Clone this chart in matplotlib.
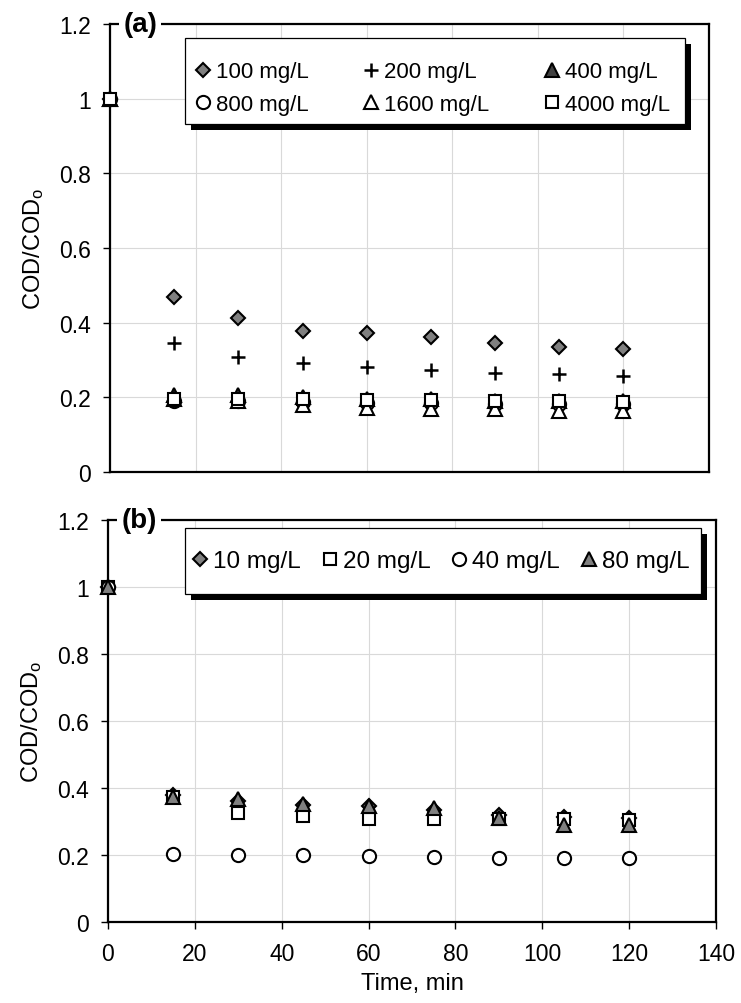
import matplotlib
matplotlib.use("Agg")
import matplotlib.pyplot as plt
from matplotlib.ticker import FuncFormatter
from matplotlib.patches import Rectangle

plt.rcParams['font.family'] = ['Liberation Sans', 'DejaVu Sans']
plt.rcParams['mathtext.fontset'] = 'custom'
plt.rcParams['mathtext.rm'] = 'Liberation Sans'
plt.rcParams['mathtext.it'] = 'Liberation Sans:italic'

# ---------------- data ----------------
time_min = [0, 15, 30, 45, 60, 75, 90, 105, 120]

# panel (a)
a_labels = ["100 mg/L", "200 mg/L", "400 mg/L", "800 mg/L", "1600 mg/L", "4000 mg/L"]
a_100 = [1.0, 0.469, 0.413, 0.379, 0.373, 0.362, 0.346, 0.334, 0.330]
a_200 = [1.0, 0.346, 0.308, 0.291, 0.280, 0.274, 0.266, 0.262, 0.258]
a_400 = [1.0, 0.205, 0.205, 0.200, 0.195, 0.195, 0.190, 0.190, 0.190]
a_800 = [1.0, 0.190, 0.190, 0.188, 0.186, 0.185, 0.183, 0.182, 0.182]
a_1600 = [1.0, 0.195, 0.190, 0.180, 0.172, 0.170, 0.168, 0.163, 0.163]
a_4000 = [1.0, 0.196, 0.196, 0.195, 0.194, 0.192, 0.190, 0.189, 0.188]

# panel (b)
b_labels = ["10 mg/L", "20 mg/L", "40 mg/L", "80 mg/L"]
b_10 = [1.0, 0.378, 0.360, 0.350, 0.345, 0.335, 0.318, 0.313, 0.310]
b_20 = [1.0, 0.373, 0.325, 0.317, 0.308, 0.306, 0.306, 0.306, 0.303]
b_40 = [1.0, 0.203, 0.200, 0.199, 0.197, 0.194, 0.192, 0.191, 0.191]
b_80 = [1.0, 0.373, 0.366, 0.353, 0.346, 0.340, 0.310, 0.290, 0.290]

y_ticks = [0, 0.2, 0.4, 0.6, 0.8, 1.0, 1.2]
x_ticks = [0, 20, 40, 60, 80, 100, 120, 140]

# ---------------- figure ----------------
W, H = 741, 1004
fig = plt.figure(figsize=(W / 100, H / 100), dpi=100)

def fx(px):
    return px / W

def fy(px):
    return 1 - px / H

ax_a = fig.add_axes([fx(110), fy(473), (709 - 110) / W, (473 - 25) / H])
ax_b = fig.add_axes([fx(108), fy(923), (716 - 108) / W, (923 - 521) / H])

TICK_FS = 16.5
LAB_FS = 17

def style_axes(ax, show_x):
    ax.set_xlim(0, 140)
    ax.set_ylim(0, 1.2)
    ax.set_xticks(x_ticks)
    ax.set_yticks(y_ticks)
    ax.yaxis.set_major_formatter(FuncFormatter(lambda v, p: "%g" % round(v, 2)))
    ax.grid(True, color="#d9d9d9", lw=0.8, zorder=0)
    ax.set_axisbelow(True)
    for s in ax.spines.values():
        s.set_linewidth(1.6)
        s.set_color("black")
    ax.tick_params(axis="y", direction="out", length=5, width=1.0,
                   labelsize=TICK_FS, pad=9)
    if show_x:
        ax.tick_params(axis="x", direction="out", length=5, width=1.0,
                       labelsize=TICK_FS, pad=9.5)
    else:
        ax.tick_params(axis="x", length=0, labelbottom=False)
    ax.set_ylabel(r"COD/COD$_\mathrm{o}$", fontsize=LAB_FS, labelpad=9)

style_axes(ax_a, False)
style_axes(ax_b, True)
ax_b.set_xlabel("Time, min", fontsize=LAB_FS, labelpad=5)

mk = dict(linestyle="none", markeredgecolor="black", clip_on=False, zorder=3)
D_MS, S_MS, O_MS, T_MS, P_MS = 6.8, 9, 9.5, 10.5, 9.5

# panel (a) series (drawn in series order)
ha100, = ax_a.plot(time_min, a_100, marker="D", ms=D_MS, mfc="#808080", mew=1.5, label=a_labels[0], **mk)
ha200, = ax_a.plot(time_min, a_200, marker="+", ms=P_MS, mew=1.8, label=a_labels[1], **mk)
ha400, = ax_a.plot(time_min, a_400, marker="^", ms=T_MS, mfc="#404040", mew=1.5, label=a_labels[2], **mk)
ha800, = ax_a.plot(time_min, a_800, marker="o", ms=O_MS, mfc="white", mew=1.5, label=a_labels[3], **mk)
ha1600, = ax_a.plot(time_min, a_1600, marker="^", ms=T_MS, mfc="white", mew=1.5, label=a_labels[4], **mk)
ha4000, = ax_a.plot(time_min, a_4000, marker="s", ms=S_MS, mfc="white", mew=1.5, label=a_labels[5], **mk)

# panel (b)
hb10, = ax_b.plot(time_min, b_10, marker="D", ms=D_MS, mfc="#808080", mew=1.5, label=b_labels[0], **mk)
hb20, = ax_b.plot(time_min, b_20, marker="s", ms=S_MS, mfc="white", mew=1.5, label=b_labels[1], **mk)
hb40, = ax_b.plot(time_min, b_40, marker="o", ms=O_MS, mfc="white", mew=1.5, label=b_labels[2], **mk)
hb80, = ax_b.plot(time_min, b_80, marker="^", ms=T_MS, mfc="#808080", mew=1.5, label=b_labels[3], **mk)

# legend (a): row-wise order -> reorder for column-first filling
hs = [ha100, ha800, ha200, ha1600, ha400, ha4000]
leg_a = ax_a.legend(hs, [h.get_label() for h in hs], ncol=3, loc="center left",
                    bbox_to_anchor=(fx(195), fy(89)), bbox_transform=fig.transFigure,
                    frameon=False, fontsize=16, handlelength=0.7, handletextpad=0.25,
                    columnspacing=2.45, labelspacing=0.5, borderpad=0, borderaxespad=0)
leg_b = ax_b.legend([hb10, hb20, hb40, hb80], b_labels, ncol=4, loc="center left",
                    bbox_to_anchor=(fx(191.5), fy(562)), bbox_transform=fig.transFigure,
                    frameon=False, fontsize=17.5, handlelength=0.7, handletextpad=0.2,
                    columnspacing=0.82, borderpad=0, borderaxespad=0)
for lg in (leg_a, leg_b):
    lg.set_zorder(6)

# legend frames with solid black offset shadows (pixel boxes)
def legend_box(ax, x0, y0, x1, y1, off=6):
    ax.add_patch(Rectangle((fx(x0 + off), fy(y1 + off)), (x1 - x0) / W, (y1 - y0) / H,
                           transform=fig.transFigure, facecolor="black", edgecolor="none",
                           zorder=5.4, clip_on=False))
    ax.add_patch(Rectangle((fx(x0), fy(y1)), (x1 - x0) / W, (y1 - y0) / H,
                           transform=fig.transFigure, facecolor="white", edgecolor="black",
                           lw=0.9, zorder=5.5, clip_on=False))

legend_box(ax_a, 185, 39, 685, 125)
legend_box(ax_b, 185, 529, 701, 595)

# panel labels
for ax, lab in ((ax_a, "(a)"), (ax_b, "(b)")):
    ax.text(0.022, 1.0, lab, transform=ax.transAxes, ha="left", va="center",
            fontsize=20, fontweight="bold", zorder=7, clip_on=False,
            bbox=dict(facecolor="white", edgecolor="none", pad=3))

fig.savefig("out.png", dpi=100)
